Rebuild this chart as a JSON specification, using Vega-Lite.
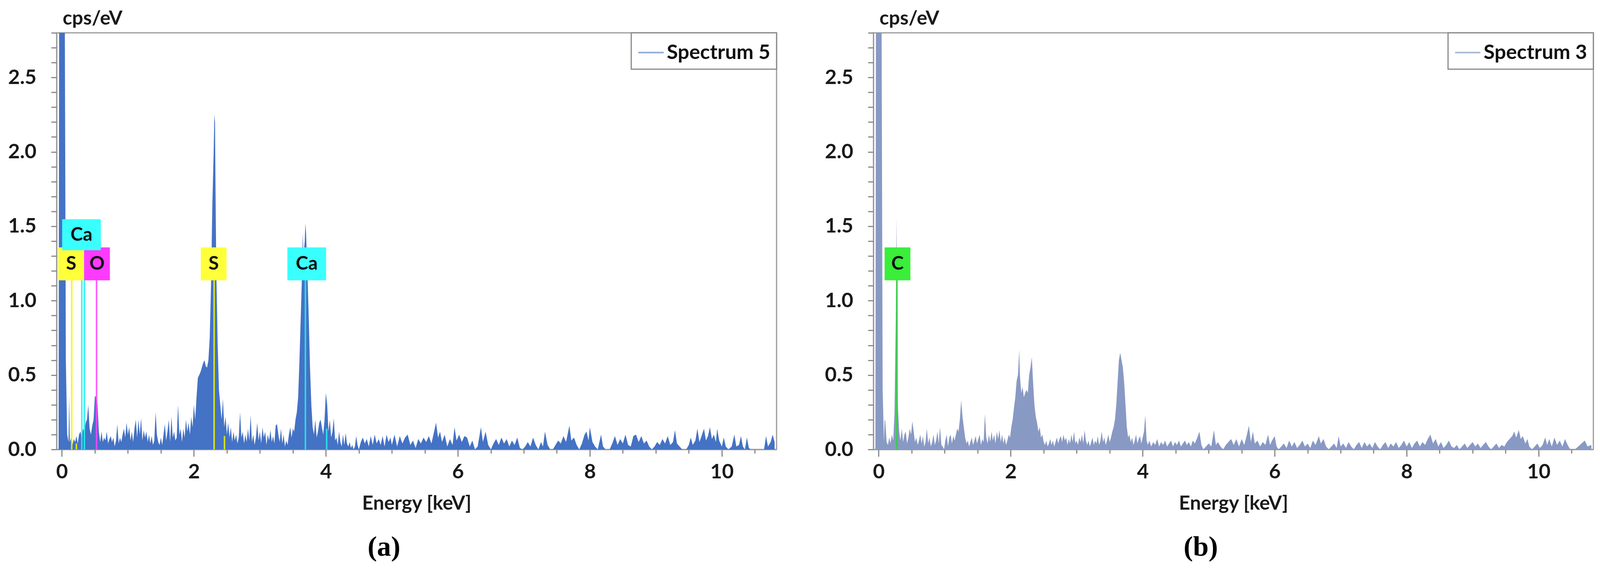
{
"$schema":"https://vega.github.io/schema/vega-lite/v6.json",
"background":"white",
"padding":{"left":18,"top":20,"right":10,"bottom":0},
"spacing":118,
"config":{
"view":{"stroke":"#9a9a9a","strokeWidth":3},
"font":"Lato",
"axis":{"labelFont":"Lato","labelFontWeight":"bold","labelFontSize":52,"labelColor":"#1a1a1a","titleFont":"Lato","titleFontWeight":"bold","titleFontSize":50,"titleColor":"#1a1a1a","domainColor":"#9a9a9a","domainWidth":3,"tickColor":"#8a8a8a","tickWidth":3,"grid":false,"labelOverlap":false,"labelBound":false,"labelFlush":false},
"legend":{"strokeWidth":3}
},
"datasets":{
"a":[{"e":-0.05,"c":0},{"e":-0.04,"c":3.5},{"e":0.04,"c":3.5},{"e":0.06,"c":0.6},{"e":0.08,"c":0.1},{"e":0.1,"c":0.05},{"e":0.11,"c":0.36},{"e":0.12,"c":0.05},{"e":0.14,"c":0.08},{"e":0.16,"c":0.03},{"e":0.18,"c":0.07},{"e":0.2,"c":0.05},{"e":0.22,"c":0.09},{"e":0.24,"c":0.04},{"e":0.26,"c":0.1},{"e":0.28,"c":0.12},{"e":0.3,"c":0.08},{"e":0.32,"c":0.14},{"e":0.34,"c":0.12},{"e":0.36,"c":0.18},{"e":0.38,"c":0.2},{"e":0.4,"c":0.3},{"e":0.42,"c":0.14},{"e":0.44,"c":0.1},{"e":0.46,"c":0.16},{"e":0.48,"c":0.2},{"e":0.5,"c":0.36},{"e":0.52,"c":0.35},{"e":0.54,"c":0.3},{"e":0.56,"c":0.12},{"e":0.58,"c":0.05},{"e":0.6,"c":0.12},{"e":0.62,"c":0.05},{"e":0.64,"c":0.08},{"e":0.66,"c":0.06},{"e":0.68,"c":0.12},{"e":0.7,"c":0.04},{"e":0.72,"c":0.07},{"e":0.74,"c":0.09},{"e":0.76,"c":0.05},{"e":0.78,"c":0.08},{"e":0.8,"c":0.02},{"e":0.82,"c":0.06},{"e":0.84,"c":0.17},{"e":0.86,"c":0.04},{"e":0.88,"c":0.08},{"e":0.9,"c":0.05},{"e":0.92,"c":0.1},{"e":0.94,"c":0.14},{"e":0.96,"c":0.08},{"e":0.98,"c":0.18},{"e":1.0,"c":0.1},{"e":1.02,"c":0.15},{"e":1.04,"c":0.06},{"e":1.06,"c":0.12},{"e":1.08,"c":0.05},{"e":1.1,"c":0.14},{"e":1.12,"c":0.2},{"e":1.14,"c":0.08},{"e":1.16,"c":0.2},{"e":1.18,"c":0.1},{"e":1.2,"c":0.21},{"e":1.22,"c":0.06},{"e":1.24,"c":0.13},{"e":1.26,"c":0.08},{"e":1.28,"c":0.12},{"e":1.3,"c":0.05},{"e":1.32,"c":0.1},{"e":1.34,"c":0.04},{"e":1.36,"c":0.09},{"e":1.38,"c":0.03},{"e":1.4,"c":0.06},{"e":1.42,"c":0.25},{"e":1.44,"c":0.1},{"e":1.46,"c":0.05},{"e":1.48,"c":0.03},{"e":1.5,"c":0.08},{"e":1.52,"c":0.03},{"e":1.54,"c":0.1},{"e":1.56,"c":0.17},{"e":1.58,"c":0.06},{"e":1.6,"c":0.12},{"e":1.62,"c":0.2},{"e":1.64,"c":0.05},{"e":1.66,"c":0.22},{"e":1.68,"c":0.08},{"e":1.7,"c":0.12},{"e":1.72,"c":0.06},{"e":1.74,"c":0.08},{"e":1.76,"c":0.3},{"e":1.78,"c":0.1},{"e":1.8,"c":0.14},{"e":1.82,"c":0.05},{"e":1.84,"c":0.14},{"e":1.86,"c":0.08},{"e":1.88,"c":0.2},{"e":1.9,"c":0.12},{"e":1.92,"c":0.18},{"e":1.94,"c":0.1},{"e":1.96,"c":0.22},{"e":1.98,"c":0.15},{"e":2.0,"c":0.3},{"e":2.02,"c":0.2},{"e":2.04,"c":0.35},{"e":2.06,"c":0.48},{"e":2.08,"c":0.5},{"e":2.1,"c":0.52},{"e":2.12,"c":0.55},{"e":2.14,"c":0.58},{"e":2.16,"c":0.6},{"e":2.18,"c":0.56},{"e":2.2,"c":0.55},{"e":2.22,"c":0.6},{"e":2.24,"c":0.75},{"e":2.26,"c":1.1},{"e":2.28,"c":1.65},{"e":2.3,"c":2.0},{"e":2.31,"c":2.25},{"e":2.32,"c":2.2},{"e":2.33,"c":1.65},{"e":2.34,"c":1.2},{"e":2.36,"c":0.72},{"e":2.38,"c":0.4},{"e":2.4,"c":0.3},{"e":2.42,"c":0.2},{"e":2.44,"c":0.34},{"e":2.46,"c":0.15},{"e":2.48,"c":0.22},{"e":2.5,"c":0.1},{"e":2.52,"c":0.18},{"e":2.54,"c":0.08},{"e":2.56,"c":0.15},{"e":2.58,"c":0.05},{"e":2.6,"c":0.12},{"e":2.62,"c":0.06},{"e":2.64,"c":0.1},{"e":2.66,"c":0.04},{"e":2.68,"c":0.08},{"e":2.7,"c":0.25},{"e":2.72,"c":0.08},{"e":2.74,"c":0.12},{"e":2.76,"c":0.04},{"e":2.78,"c":0.1},{"e":2.8,"c":0.05},{"e":2.82,"c":0.14},{"e":2.84,"c":0.06},{"e":2.86,"c":0.23},{"e":2.88,"c":0.05},{"e":2.9,"c":0.1},{"e":2.92,"c":0.03},{"e":2.94,"c":0.08},{"e":2.96,"c":0.18},{"e":2.98,"c":0.06},{"e":3.0,"c":0.12},{"e":3.02,"c":0.04},{"e":3.04,"c":0.15},{"e":3.06,"c":0.08},{"e":3.08,"c":0.12},{"e":3.1,"c":0.03},{"e":3.12,"c":0.1},{"e":3.14,"c":0.06},{"e":3.16,"c":0.13},{"e":3.18,"c":0.05},{"e":3.2,"c":0.09},{"e":3.22,"c":0.04},{"e":3.24,"c":0.16},{"e":3.26,"c":0.17},{"e":3.28,"c":0.1},{"e":3.3,"c":0.05},{"e":3.32,"c":0.14},{"e":3.34,"c":0.04},{"e":3.36,"c":0.1},{"e":3.38,"c":0.02},{"e":3.4,"c":0.06},{"e":3.42,"c":0.03},{"e":3.44,"c":0.1},{"e":3.46,"c":0.15},{"e":3.48,"c":0.08},{"e":3.5,"c":0.14},{"e":3.52,"c":0.12},{"e":3.54,"c":0.2},{"e":3.56,"c":0.25},{"e":3.58,"c":0.35},{"e":3.6,"c":0.6},{"e":3.62,"c":0.9},{"e":3.64,"c":1.2},{"e":3.65,"c":1.46},{"e":3.66,"c":1.3},{"e":3.68,"c":1.4},{"e":3.69,"c":1.52},{"e":3.7,"c":1.45},{"e":3.72,"c":1.2},{"e":3.74,"c":0.9},{"e":3.76,"c":0.55},{"e":3.78,"c":0.3},{"e":3.8,"c":0.15},{"e":3.82,"c":0.1},{"e":3.84,"c":0.2},{"e":3.86,"c":0.08},{"e":3.88,"c":0.12},{"e":3.9,"c":0.18},{"e":3.92,"c":0.2},{"e":3.94,"c":0.15},{"e":3.96,"c":0.1},{"e":3.98,"c":0.2},{"e":4.0,"c":0.38},{"e":4.02,"c":0.3},{"e":4.04,"c":0.12},{"e":4.06,"c":0.2},{"e":4.08,"c":0.08},{"e":4.1,"c":0.12},{"e":4.12,"c":0.21},{"e":4.14,"c":0.06},{"e":4.16,"c":0.08},{"e":4.18,"c":0.03},{"e":4.2,"c":0.12},{"e":4.22,"c":0.05},{"e":4.24,"c":0.02},{"e":4.26,"c":0.1},{"e":4.28,"c":0.03},{"e":4.3,"c":0.11},{"e":4.32,"c":0.04},{"e":4.34,"c":0.02},{"e":4.36,"c":0.05},{"e":4.38,"c":0.01},{"e":4.4,"c":0.03},{"e":4.42,"c":0.0},{"e":4.44,"c":0.02},{"e":4.46,"c":0.09},{"e":4.48,"c":0.03},{"e":4.5,"c":0.0},{"e":4.53,"c":0.05},{"e":4.56,"c":0.08},{"e":4.59,"c":0.04},{"e":4.62,"c":0.07},{"e":4.65,"c":0.02},{"e":4.68,"c":0.09},{"e":4.71,"c":0.03},{"e":4.74,"c":0.1},{"e":4.77,"c":0.04},{"e":4.8,"c":0.07},{"e":4.83,"c":0.03},{"e":4.86,"c":0.09},{"e":4.89,"c":0.02},{"e":4.92,"c":0.1},{"e":4.95,"c":0.05},{"e":4.98,"c":0.08},{"e":5.0,"c":0.03},{"e":5.04,"c":0.1},{"e":5.08,"c":0.02},{"e":5.12,"c":0.09},{"e":5.16,"c":0.04},{"e":5.2,"c":0.08},{"e":5.24,"c":0.1},{"e":5.28,"c":0.03},{"e":5.32,"c":0.06},{"e":5.36,"c":0.01},{"e":5.4,"c":0.07},{"e":5.44,"c":0.04},{"e":5.48,"c":0.08},{"e":5.52,"c":0.05},{"e":5.56,"c":0.09},{"e":5.6,"c":0.04},{"e":5.64,"c":0.12},{"e":5.67,"c":0.18},{"e":5.7,"c":0.08},{"e":5.73,"c":0.12},{"e":5.76,"c":0.05},{"e":5.8,"c":0.1},{"e":5.84,"c":0.02},{"e":5.88,"c":0.07},{"e":5.92,"c":0.03},{"e":5.95,"c":0.15},{"e":5.98,"c":0.06},{"e":6.02,"c":0.1},{"e":6.06,"c":0.05},{"e":6.1,"c":0.09},{"e":6.14,"c":0.08},{"e":6.18,"c":0.02},{"e":6.22,"c":0.06},{"e":6.26,"c":0.0},{"e":6.3,"c":0.02},{"e":6.35,"c":0.15},{"e":6.38,"c":0.05},{"e":6.42,"c":0.12},{"e":6.46,"c":0.03},{"e":6.5,"c":0.0},{"e":6.54,"c":0.04},{"e":6.58,"c":0.07},{"e":6.62,"c":0.03},{"e":6.66,"c":0.08},{"e":6.7,"c":0.04},{"e":6.74,"c":0.07},{"e":6.78,"c":0.02},{"e":6.82,"c":0.06},{"e":6.86,"c":0.03},{"e":6.9,"c":0.08},{"e":6.94,"c":0.01},{"e":6.98,"c":0.0},{"e":7.02,"c":0.02},{"e":7.06,"c":0.05},{"e":7.1,"c":0.02},{"e":7.14,"c":0.08},{"e":7.18,"c":0.03},{"e":7.22,"c":0.0},{"e":7.26,"c":0.05},{"e":7.29,"c":0.02},{"e":7.32,"c":0.12},{"e":7.36,"c":0.03},{"e":7.4,"c":0.0},{"e":7.44,"c":0.0},{"e":7.48,"c":0.03},{"e":7.52,"c":0.06},{"e":7.56,"c":0.04},{"e":7.6,"c":0.09},{"e":7.64,"c":0.05},{"e":7.69,"c":0.16},{"e":7.72,"c":0.06},{"e":7.76,"c":0.08},{"e":7.8,"c":0.03},{"e":7.84,"c":0.0},{"e":7.88,"c":0.04},{"e":7.92,"c":0.1},{"e":7.95,"c":0.12},{"e":7.98,"c":0.06},{"e":8.0,"c":0.15},{"e":8.04,"c":0.05},{"e":8.08,"c":0.02},{"e":8.12,"c":0.0},{"e":8.17,"c":0.1},{"e":8.2,"c":0.02},{"e":8.24,"c":0.0},{"e":8.3,"c":0.0},{"e":8.34,"c":0.04},{"e":8.38,"c":0.09},{"e":8.42,"c":0.03},{"e":8.46,"c":0.07},{"e":8.5,"c":0.04},{"e":8.54,"c":0.1},{"e":8.58,"c":0.03},{"e":8.62,"c":0.02},{"e":8.66,"c":0.09},{"e":8.7,"c":0.1},{"e":8.74,"c":0.05},{"e":8.78,"c":0.09},{"e":8.82,"c":0.04},{"e":8.86,"c":0.06},{"e":8.9,"c":0.02},{"e":8.94,"c":0.0},{"e":8.98,"c":0.02},{"e":9.02,"c":0.05},{"e":9.06,"c":0.03},{"e":9.1,"c":0.07},{"e":9.14,"c":0.04},{"e":9.18,"c":0.09},{"e":9.22,"c":0.03},{"e":9.26,"c":0.05},{"e":9.29,"c":0.13},{"e":9.32,"c":0.04},{"e":9.36,"c":0.02},{"e":9.4,"c":0.0},{"e":9.46,"c":0.0},{"e":9.5,"c":0.03},{"e":9.53,"c":0.08},{"e":9.56,"c":0.03},{"e":9.6,"c":0.06},{"e":9.63,"c":0.14},{"e":9.66,"c":0.05},{"e":9.7,"c":0.1},{"e":9.73,"c":0.14},{"e":9.76,"c":0.06},{"e":9.79,"c":0.09},{"e":9.82,"c":0.15},{"e":9.85,"c":0.07},{"e":9.88,"c":0.1},{"e":9.91,"c":0.05},{"e":9.93,"c":0.14},{"e":9.96,"c":0.06},{"e":10.0,"c":0.02},{"e":10.03,"c":0.08},{"e":10.06,"c":0.02},{"e":10.1,"c":0.0},{"e":10.15,"c":0.02},{"e":10.19,"c":0.1},{"e":10.22,"c":0.02},{"e":10.26,"c":0.03},{"e":10.29,"c":0.09},{"e":10.32,"c":0.02},{"e":10.35,"c":0.0},{"e":10.38,"c":0.08},{"e":10.41,"c":0.01},{"e":10.44,"c":0.0},{"e":10.64,"c":0.0},{"e":10.67,"c":0.09},{"e":10.7,"c":0.02},{"e":10.74,"c":0.05},{"e":10.77,"c":0.1},{"e":10.8,"c":0.05}],
"b":[{"e":-0.05,"c":0},{"e":-0.04,"c":3.5},{"e":0.04,"c":3.5},{"e":0.06,"c":0.4},{"e":0.08,"c":0.05},{"e":0.09,"c":0.2},{"e":0.1,"c":0.19},{"e":0.12,"c":0.05},{"e":0.14,"c":0.03},{"e":0.16,"c":0.08},{"e":0.18,"c":0.04},{"e":0.2,"c":0.1},{"e":0.22,"c":0.06},{"e":0.24,"c":0.25},{"e":0.26,"c":0.9},{"e":0.27,"c":1.56},{"e":0.28,"c":1.0},{"e":0.29,"c":0.3},{"e":0.31,"c":0.12},{"e":0.33,"c":0.06},{"e":0.35,"c":0.14},{"e":0.37,"c":0.05},{"e":0.39,"c":0.1},{"e":0.41,"c":0.12},{"e":0.43,"c":0.04},{"e":0.45,"c":0.08},{"e":0.47,"c":0.14},{"e":0.49,"c":0.1},{"e":0.51,"c":0.19},{"e":0.53,"c":0.12},{"e":0.55,"c":0.05},{"e":0.57,"c":0.08},{"e":0.59,"c":0.03},{"e":0.61,"c":0.06},{"e":0.63,"c":0.1},{"e":0.65,"c":0.04},{"e":0.67,"c":0.09},{"e":0.69,"c":0.02},{"e":0.71,"c":0.05},{"e":0.73,"c":0.14},{"e":0.75,"c":0.04},{"e":0.77,"c":0.08},{"e":0.79,"c":0.02},{"e":0.81,"c":0.05},{"e":0.83,"c":0.1},{"e":0.85,"c":0.03},{"e":0.87,"c":0.06},{"e":0.89,"c":0.12},{"e":0.91,"c":0.04},{"e":0.93,"c":0.15},{"e":0.95,"c":0.03},{"e":0.97,"c":0.02},{"e":0.99,"c":0.0},{"e":1.01,"c":0.06},{"e":1.03,"c":0.1},{"e":1.05,"c":0.02},{"e":1.07,"c":0.08},{"e":1.09,"c":0.1},{"e":1.11,"c":0.04},{"e":1.13,"c":0.09},{"e":1.15,"c":0.06},{"e":1.17,"c":0.1},{"e":1.19,"c":0.14},{"e":1.21,"c":0.12},{"e":1.23,"c":0.2},{"e":1.25,"c":0.33},{"e":1.27,"c":0.22},{"e":1.29,"c":0.15},{"e":1.31,"c":0.08},{"e":1.33,"c":0.04},{"e":1.35,"c":0.06},{"e":1.37,"c":0.02},{"e":1.39,"c":0.05},{"e":1.41,"c":0.08},{"e":1.43,"c":0.03},{"e":1.45,"c":0.06},{"e":1.47,"c":0.09},{"e":1.49,"c":0.04},{"e":1.51,"c":0.07},{"e":1.53,"c":0.1},{"e":1.55,"c":0.03},{"e":1.57,"c":0.07},{"e":1.59,"c":0.05},{"e":1.61,"c":0.24},{"e":1.63,"c":0.08},{"e":1.65,"c":0.04},{"e":1.67,"c":0.1},{"e":1.69,"c":0.05},{"e":1.71,"c":0.12},{"e":1.73,"c":0.06},{"e":1.75,"c":0.1},{"e":1.77,"c":0.04},{"e":1.79,"c":0.12},{"e":1.81,"c":0.07},{"e":1.83,"c":0.13},{"e":1.85,"c":0.05},{"e":1.87,"c":0.1},{"e":1.89,"c":0.04},{"e":1.91,"c":0.08},{"e":1.93,"c":0.03},{"e":1.95,"c":0.06},{"e":1.97,"c":0.1},{"e":1.99,"c":0.08},{"e":2.01,"c":0.15},{"e":2.03,"c":0.2},{"e":2.05,"c":0.28},{"e":2.07,"c":0.35},{"e":2.09,"c":0.46},{"e":2.11,"c":0.5},{"e":2.13,"c":0.67},{"e":2.14,"c":0.5},{"e":2.16,"c":0.38},{"e":2.18,"c":0.42},{"e":2.2,"c":0.35},{"e":2.22,"c":0.38},{"e":2.24,"c":0.4},{"e":2.26,"c":0.38},{"e":2.28,"c":0.5},{"e":2.3,"c":0.55},{"e":2.32,"c":0.62},{"e":2.34,"c":0.45},{"e":2.36,"c":0.3},{"e":2.38,"c":0.22},{"e":2.4,"c":0.18},{"e":2.42,"c":0.12},{"e":2.44,"c":0.15},{"e":2.46,"c":0.08},{"e":2.48,"c":0.1},{"e":2.5,"c":0.05},{"e":2.52,"c":0.03},{"e":2.54,"c":0.06},{"e":2.56,"c":0.02},{"e":2.58,"c":0.04},{"e":2.6,"c":0.07},{"e":2.62,"c":0.03},{"e":2.64,"c":0.06},{"e":2.66,"c":0.02},{"e":2.68,"c":0.05},{"e":2.7,"c":0.08},{"e":2.72,"c":0.04},{"e":2.74,"c":0.07},{"e":2.76,"c":0.09},{"e":2.78,"c":0.05},{"e":2.8,"c":0.1},{"e":2.82,"c":0.06},{"e":2.84,"c":0.08},{"e":2.86,"c":0.03},{"e":2.88,"c":0.07},{"e":2.9,"c":0.04},{"e":2.92,"c":0.1},{"e":2.94,"c":0.05},{"e":2.96,"c":0.12},{"e":2.98,"c":0.04},{"e":3.0,"c":0.06},{"e":3.02,"c":0.03},{"e":3.04,"c":0.08},{"e":3.06,"c":0.05},{"e":3.08,"c":0.1},{"e":3.1,"c":0.04},{"e":3.12,"c":0.13},{"e":3.14,"c":0.06},{"e":3.16,"c":0.03},{"e":3.18,"c":0.06},{"e":3.2,"c":0.02},{"e":3.22,"c":0.05},{"e":3.24,"c":0.08},{"e":3.26,"c":0.03},{"e":3.28,"c":0.06},{"e":3.3,"c":0.04},{"e":3.32,"c":0.09},{"e":3.34,"c":0.03},{"e":3.36,"c":0.06},{"e":3.38,"c":0.12},{"e":3.4,"c":0.05},{"e":3.42,"c":0.08},{"e":3.44,"c":0.03},{"e":3.46,"c":0.06},{"e":3.48,"c":0.1},{"e":3.5,"c":0.05},{"e":3.52,"c":0.08},{"e":3.54,"c":0.12},{"e":3.56,"c":0.15},{"e":3.58,"c":0.2},{"e":3.6,"c":0.3},{"e":3.62,"c":0.45},{"e":3.64,"c":0.6},{"e":3.66,"c":0.65},{"e":3.68,"c":0.6},{"e":3.7,"c":0.55},{"e":3.72,"c":0.45},{"e":3.74,"c":0.3},{"e":3.76,"c":0.15},{"e":3.78,"c":0.08},{"e":3.8,"c":0.1},{"e":3.82,"c":0.05},{"e":3.84,"c":0.08},{"e":3.86,"c":0.03},{"e":3.88,"c":0.06},{"e":3.9,"c":0.1},{"e":3.92,"c":0.04},{"e":3.94,"c":0.07},{"e":3.96,"c":0.09},{"e":3.98,"c":0.04},{"e":4.0,"c":0.08},{"e":4.02,"c":0.12},{"e":4.04,"c":0.23},{"e":4.06,"c":0.06},{"e":4.08,"c":0.03},{"e":4.1,"c":0.06},{"e":4.13,"c":0.02},{"e":4.16,"c":0.05},{"e":4.19,"c":0.03},{"e":4.22,"c":0.07},{"e":4.25,"c":0.02},{"e":4.28,"c":0.05},{"e":4.31,"c":0.03},{"e":4.34,"c":0.06},{"e":4.37,"c":0.02},{"e":4.4,"c":0.04},{"e":4.43,"c":0.06},{"e":4.46,"c":0.02},{"e":4.49,"c":0.05},{"e":4.52,"c":0.03},{"e":4.55,"c":0.06},{"e":4.58,"c":0.02},{"e":4.61,"c":0.04},{"e":4.64,"c":0.06},{"e":4.67,"c":0.03},{"e":4.7,"c":0.05},{"e":4.73,"c":0.02},{"e":4.76,"c":0.06},{"e":4.79,"c":0.04},{"e":4.82,"c":0.07},{"e":4.86,"c":0.12},{"e":4.89,"c":0.03},{"e":4.92,"c":0.0},{"e":4.96,"c":0.02},{"e":5.0,"c":0.04},{"e":5.04,"c":0.02},{"e":5.08,"c":0.13},{"e":5.11,"c":0.03},{"e":5.14,"c":0.05},{"e":5.18,"c":0.02},{"e":5.22,"c":0.0},{"e":5.26,"c":0.03},{"e":5.3,"c":0.05},{"e":5.34,"c":0.07},{"e":5.38,"c":0.03},{"e":5.42,"c":0.07},{"e":5.46,"c":0.02},{"e":5.5,"c":0.07},{"e":5.54,"c":0.03},{"e":5.58,"c":0.1},{"e":5.61,"c":0.16},{"e":5.64,"c":0.05},{"e":5.67,"c":0.12},{"e":5.7,"c":0.04},{"e":5.74,"c":0.06},{"e":5.78,"c":0.02},{"e":5.82,"c":0.05},{"e":5.86,"c":0.03},{"e":5.9,"c":0.1},{"e":5.93,"c":0.03},{"e":5.96,"c":0.06},{"e":6.0,"c":0.09},{"e":6.03,"c":0.02},{"e":6.06,"c":0.0},{"e":6.1,"c":0.02},{"e":6.14,"c":0.04},{"e":6.18,"c":0.01},{"e":6.22,"c":0.06},{"e":6.26,"c":0.02},{"e":6.3,"c":0.05},{"e":6.34,"c":0.01},{"e":6.38,"c":0.03},{"e":6.42,"c":0.06},{"e":6.46,"c":0.02},{"e":6.5,"c":0.04},{"e":6.54,"c":0.01},{"e":6.58,"c":0.06},{"e":6.62,"c":0.03},{"e":6.67,"c":0.09},{"e":6.7,"c":0.04},{"e":6.74,"c":0.07},{"e":6.78,"c":0.02},{"e":6.82,"c":0.0},{"e":6.86,"c":0.02},{"e":6.9,"c":0.04},{"e":6.94,"c":0.01},{"e":6.97,"c":0.09},{"e":7.0,"c":0.02},{"e":7.04,"c":0.04},{"e":7.08,"c":0.01},{"e":7.12,"c":0.05},{"e":7.16,"c":0.02},{"e":7.2,"c":0.0},{"e":7.24,"c":0.03},{"e":7.28,"c":0.05},{"e":7.32,"c":0.01},{"e":7.36,"c":0.05},{"e":7.4,"c":0.02},{"e":7.44,"c":0.04},{"e":7.48,"c":0.01},{"e":7.52,"c":0.05},{"e":7.56,"c":0.02},{"e":7.6,"c":0.0},{"e":7.64,"c":0.03},{"e":7.68,"c":0.05},{"e":7.72,"c":0.01},{"e":7.76,"c":0.04},{"e":7.8,"c":0.02},{"e":7.84,"c":0.05},{"e":7.88,"c":0.01},{"e":7.92,"c":0.03},{"e":7.96,"c":0.06},{"e":8.0,"c":0.02},{"e":8.04,"c":0.05},{"e":8.08,"c":0.01},{"e":8.12,"c":0.04},{"e":8.16,"c":0.06},{"e":8.2,"c":0.02},{"e":8.24,"c":0.05},{"e":8.28,"c":0.03},{"e":8.32,"c":0.07},{"e":8.36,"c":0.1},{"e":8.4,"c":0.04},{"e":8.44,"c":0.07},{"e":8.48,"c":0.02},{"e":8.52,"c":0.05},{"e":8.56,"c":0.01},{"e":8.6,"c":0.03},{"e":8.64,"c":0.06},{"e":8.68,"c":0.02},{"e":8.72,"c":0.01},{"e":8.76,"c":0.03},{"e":8.8,"c":0.0},{"e":8.84,"c":0.02},{"e":8.88,"c":0.04},{"e":8.92,"c":0.01},{"e":8.96,"c":0.03},{"e":9.0,"c":0.05},{"e":9.04,"c":0.02},{"e":9.08,"c":0.04},{"e":9.12,"c":0.01},{"e":9.16,"c":0.03},{"e":9.2,"c":0.05},{"e":9.24,"c":0.02},{"e":9.28,"c":0.0},{"e":9.32,"c":0.02},{"e":9.36,"c":0.04},{"e":9.4,"c":0.01},{"e":9.44,"c":0.03},{"e":9.48,"c":0.02},{"e":9.52,"c":0.05},{"e":9.56,"c":0.07},{"e":9.6,"c":0.09},{"e":9.63,"c":0.12},{"e":9.66,"c":0.08},{"e":9.7,"c":0.13},{"e":9.73,"c":0.07},{"e":9.76,"c":0.09},{"e":9.8,"c":0.04},{"e":9.83,"c":0.07},{"e":9.86,"c":0.02},{"e":9.9,"c":0.0},{"e":9.94,"c":0.02},{"e":9.98,"c":0.04},{"e":10.02,"c":0.01},{"e":10.06,"c":0.03},{"e":10.1,"c":0.08},{"e":10.13,"c":0.03},{"e":10.16,"c":0.07},{"e":10.2,"c":0.02},{"e":10.24,"c":0.08},{"e":10.28,"c":0.03},{"e":10.32,"c":0.06},{"e":10.36,"c":0.02},{"e":10.4,"c":0.07},{"e":10.44,"c":0.03},{"e":10.48,"c":0.0},{"e":10.55,"c":0.0},{"e":10.6,"c":0.02},{"e":10.65,"c":0.04},{"e":10.7,"c":0.06},{"e":10.74,"c":0.02},{"e":10.8,"c":0.03}],
"lines":[{"p":"a","el":"S","e":0.149,"top":1.137},{"p":"a","el":"S","e":0.22,"top":0.04},{"p":"a","el":"Ca","e":0.302,"top":1.339},{"p":"a","el":"Ca","e":0.341,"top":1.339},{"p":"a","el":"O","e":0.525,"top":1.137},{"p":"a","el":"S","e":2.307,"top":1.137},{"p":"a","el":"S","e":2.464,"top":0.09},{"p":"a","el":"Ca","e":3.69,"top":1.137},{"p":"a","el":"Ca","e":4.012,"top":0.14},{"p":"b","el":"C","e":0.277,"top":1.137}],
"tags":[{"p":"a","el":"S","e":0.141,"lo":1.137,"hi":1.358,"mid":1.245},{"p":"a","el":"O","e":0.532,"lo":1.137,"hi":1.358,"mid":1.245},{"p":"a","el":"Ca","e":0.297,"lo":1.339,"hi":1.547,"mid":1.44},{"p":"a","el":"S","e":2.3,"lo":1.137,"hi":1.358,"mid":1.245},{"p":"a","el":"Ca","e":3.71,"lo":1.137,"hi":1.358,"mid":1.245},{"p":"b","el":"C","e":0.285,"lo":1.137,"hi":1.358,"mid":1.245}]
},
"resolve":{"scale":{"color":"independent"},"legend":{"color":"independent"}},
"hconcat":[
{"width":1843,"height":1066,
"title":{"text":"(a)","orient":"bottom","anchor":"middle","frame":"bounds","font":"Liberation Serif","fontSize":72,"fontWeight":"bold","color":"#000","offset":52,"dx":-22},
"resolve":{"axis":{"x":"independent","y":"independent"}},
"layer":[
{"data":{"name":"a"},"mark":{"type":"area","clip":true,"interpolate":"linear","fillOpacity":1},
"encoding":{
"x":{"field":"e","type":"quantitative","scale":{"domain":[-0.05,10.8],"nice":false,"zero":false},
"axis":{"orient":"bottom","values":[0,2,4,6,8,10],"format":"d","tickSize":18,"labelPadding":14,"title":"Energy [keV]","titlePadding":30}},
"y":{"field":"c","type":"quantitative","scale":{"domain":[0,2.8],"nice":false},
"axis":{"orient":"left","values":[0,0.5,1,1.5,2,2.5],"format":".1f","tickSize":14,"labelPadding":38,"title":"cps/eV","titleAngle":0,"titleAlign":"left","titleBaseline":"alphabetic","titleX":15,"titleY":-22}},
"color":{"datum":"Spectrum 5","scale":{"range":["#4472C4"]},
"legend":{"title":null,"orient":"top-right","offset":0,"padding":16,"strokeColor":"#888888","fillColor":"white","labelFont":"Lato","labelFontSize":52,"labelFontWeight":"bold","labelColor":"#111111","labelLimit":0,"symbolType":"stroke","symbolSize":4225,"symbolStrokeWidth":4,"labelOffset":6,
"encode":{"symbols":{"update":{"stroke":{"value":"#8EAADB"},"strokeWidth":{"value":4},"opacity":{"value":1}}}}}}}},
{"data":{"name":"lines"},"transform":[{"filter":"datum.p === 'a'"}],"mark":{"type":"rule","strokeWidth":4,"opacity":0.85},
"encoding":{"x":{"field":"e","type":"quantitative","axis":{"orient":"bottom","values":[0,0.5,1,1.5,2,2.5,3,3.5,4,4.5,5,5.5,6,6.5,7,7.5,8,8.5,9,9.5,10,10.5],"tickSize":10,"labels":false,"domain":false,"title":null}},
"y":{"field":"top","type":"quantitative","axis":{"orient":"left","values":[0,0.1,0.2,0.3,0.4,0.5,0.6,0.7,0.8,0.9,1,1.1,1.2,1.3,1.4,1.5,1.6,1.7,1.8,1.9,2,2.1,2.2,2.3,2.4,2.5,2.6,2.7,2.8],"tickSize":14,"labels":false,"domain":false,"title":null}},"y2":{"datum":0},
"stroke":{"field":"el","type":"nominal","scale":{"domain":["S","Ca","O","C"],"range":["#F5F500","#22F0F0","#FF44FF","#22DD22"]},"legend":null}}},
{"data":{"name":"tags"},"transform":[{"filter":"datum.p === 'a' && length(datum.el) === 1"}],"mark":{"type":"bar","width":66},
"encoding":{"x":{"field":"e","type":"quantitative","axis":null},"y":{"field":"lo","type":"quantitative","axis":null},"y2":{"field":"hi"},
"fill":{"field":"el","type":"nominal","scale":{"domain":["S","Ca","O","C"],"range":["#FFFF3A","#3AFFFF","#FF3AFF","#3AEE3A"]},"legend":null}}},
{"data":{"name":"tags"},"transform":[{"filter":"datum.p === 'a' && length(datum.el) === 2"}],"mark":{"type":"bar","width":99},
"encoding":{"x":{"field":"e","type":"quantitative","axis":null},"y":{"field":"lo","type":"quantitative","axis":null},"y2":{"field":"hi"},
"fill":{"field":"el","type":"nominal","legend":null}}},
{"data":{"name":"tags"},"transform":[{"filter":"datum.p === 'a'"}],"mark":{"type":"text","font":"Lato","fontSize":48,"fontWeight":"bold","color":"#111111","baseline":"middle","align":"center"},
"encoding":{"x":{"field":"e","type":"quantitative","axis":null},"y":{"field":"mid","type":"quantitative","axis":null},"text":{"field":"el"}}}
]},
{"width":1843,"height":1066,
"title":{"text":"(b)","orient":"bottom","anchor":"middle","frame":"bounds","font":"Liberation Serif","fontSize":72,"fontWeight":"bold","color":"#000","offset":52,"dx":-22},
"resolve":{"axis":{"x":"independent","y":"independent"}},
"layer":[
{"data":{"name":"b"},"mark":{"type":"area","clip":true,"interpolate":"linear","fillOpacity":1},
"encoding":{
"x":{"field":"e","type":"quantitative","scale":{"domain":[-0.05,10.8],"nice":false,"zero":false},
"axis":{"orient":"bottom","values":[0,2,4,6,8,10],"format":"d","tickSize":18,"labelPadding":14,"title":"Energy [keV]","titlePadding":30}},
"y":{"field":"c","type":"quantitative","scale":{"domain":[0,2.8],"nice":false},
"axis":{"orient":"left","values":[0,0.5,1,1.5,2,2.5],"format":".1f","tickSize":14,"labelPadding":38,"title":"cps/eV","titleAngle":0,"titleAlign":"left","titleBaseline":"alphabetic","titleX":15,"titleY":-22}},
"color":{"datum":"Spectrum 3","scale":{"range":["#8899C4"]},
"legend":{"title":null,"orient":"top-right","offset":0,"padding":16,"strokeColor":"#888888","fillColor":"white","labelFont":"Lato","labelFontSize":52,"labelFontWeight":"bold","labelColor":"#111111","labelLimit":0,"symbolType":"stroke","symbolSize":4225,"symbolStrokeWidth":4,"labelOffset":6,
"encode":{"symbols":{"update":{"stroke":{"value":"#A9B6D3"},"strokeWidth":{"value":4},"opacity":{"value":1}}}}}}}},
{"data":{"name":"lines"},"transform":[{"filter":"datum.p === 'b'"}],"mark":{"type":"rule","strokeWidth":4,"opacity":0.85},
"encoding":{"x":{"field":"e","type":"quantitative","axis":{"orient":"bottom","values":[0,0.5,1,1.5,2,2.5,3,3.5,4,4.5,5,5.5,6,6.5,7,7.5,8,8.5,9,9.5,10,10.5],"tickSize":10,"labels":false,"domain":false,"title":null}},
"y":{"field":"top","type":"quantitative","axis":{"orient":"left","values":[0,0.1,0.2,0.3,0.4,0.5,0.6,0.7,0.8,0.9,1,1.1,1.2,1.3,1.4,1.5,1.6,1.7,1.8,1.9,2,2.1,2.2,2.3,2.4,2.5,2.6,2.7,2.8],"tickSize":14,"labels":false,"domain":false,"title":null}},"y2":{"datum":0},
"stroke":{"field":"el","type":"nominal","scale":{"domain":["S","Ca","O","C"],"range":["#F5F500","#22F0F0","#FF44FF","#22DD22"]},"legend":null}}},
{"data":{"name":"tags"},"transform":[{"filter":"datum.p === 'b'"}],"mark":{"type":"bar","width":66},
"encoding":{"x":{"field":"e","type":"quantitative","axis":null},"y":{"field":"lo","type":"quantitative","axis":null},"y2":{"field":"hi"},
"fill":{"field":"el","type":"nominal","scale":{"domain":["S","Ca","O","C"],"range":["#FFFF3A","#3AFFFF","#FF3AFF","#3AEE3A"]},"legend":null}}},
{"data":{"name":"tags"},"transform":[{"filter":"datum.p === 'b'"}],"mark":{"type":"text","font":"Lato","fontSize":48,"fontWeight":"bold","color":"#111111","baseline":"middle","align":"center"},
"encoding":{"x":{"field":"e","type":"quantitative","axis":null},"y":{"field":"mid","type":"quantitative","axis":null},"text":{"field":"el"}}}
]}
]
}
